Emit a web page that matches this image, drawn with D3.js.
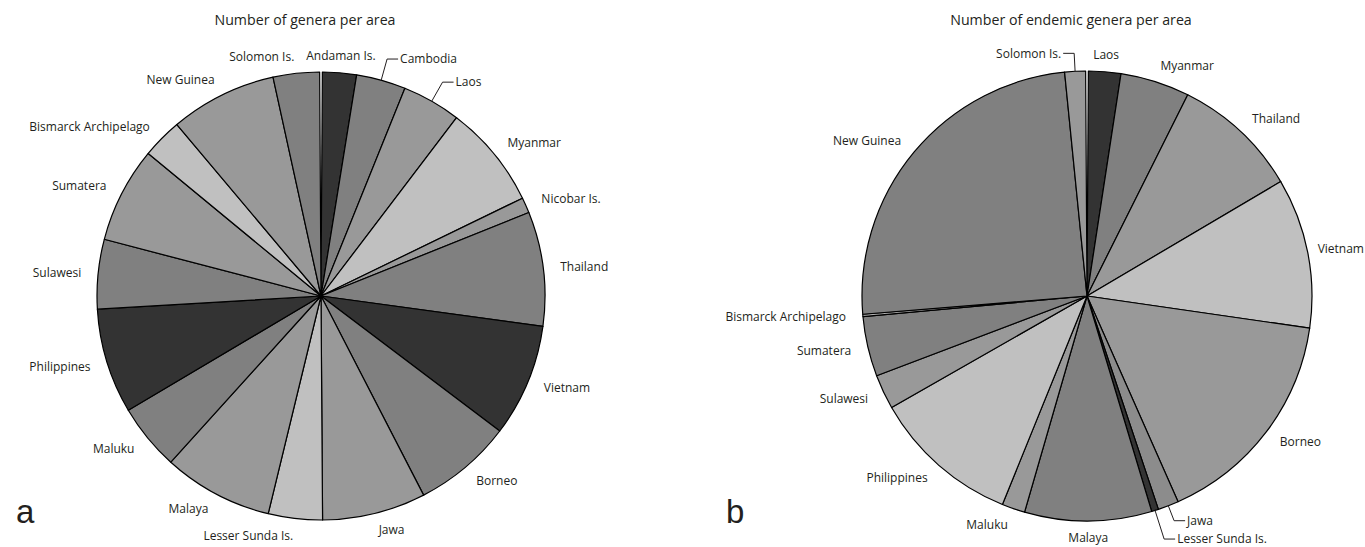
<!doctype html>
<html>
<head>
    <meta charset="UTF-8">
    <title>genera per area</title>
    <script src="https://d3js.org/d3.v7.min.js"></script>
    <style>
        body { margin: 0; background: #fff; }
        text { font-family: "Open Sans", "DejaVu Sans", sans-serif; fill: #231f20; }
    </style>
</head>
<body>
<script>
    // panel a: all genera
    var areasA = ["Andaman Is.", "Cambodia", "Laos", "Myanmar", "Nicobar Is.", "Thailand", "Vietnam",
        "Borneo", "Jawa", "Lesser Sunda Is.", "Malaya", "Maluku", "Philippines", "Sulawesi",
        "Sumatera", "Bismarck Archipelago", "New Guinea", "Solomon Is."];
    var generaA = [22, 32, 38, 67, 10, 74, 73, 64, 67, 35, 71, 43, 68, 45, 62, 26, 69, 30];

    // panel b: endemic genera
    var areasB = ["Laos", "Myanmar", "Thailand", "Vietnam", "Borneo", "Jawa", "Lesser Sunda Is.",
        "Malaya", "Maluku", "Philippines", "Sulawesi", "Sumatera", "Bismarck Archipelago",
        "New Guinea", "Solomon Is."];
    var endemicB = [14, 30, 55, 65, 97, 9, 3, 55, 10, 64, 15, 26, 1, 149, 9];

    var titles = ["Number of genera per area", "Number of endemic genera per area"];
    var panelLetters = ["a", "b"];

    // grey fills
    var fillsA = ["#333333", "#808080", "#999999", "#c0c0c0", "#999999", "#808080", "#333333",
        "#808080", "#999999", "#c0c0c0", "#999999", "#808080", "#333333", "#808080",
        "#999999", "#c0c0c0", "#999999", "#808080"];
    var fillsB = ["#333333", "#808080", "#999999", "#c0c0c0", "#999999", "#8c8c8c", "#333333",
        "#808080", "#999999", "#c0c0c0", "#999999", "#808080", "#b0b0b0",
        "#808080", "#999999"];

    // labels pulled out with a leader line (extra length past the rim)
    var leadersA = {"Cambodia": 22, "Laos": 22};
    var leadersB = {"Solomon Is.": 18, "Jawa": 16, "Lesser Sunda Is.": 30};

    var W = 1365, H = 547;
    var svg = d3.select("body").append("svg")
        .attr("width", W)
        .attr("height", H);

    var gap = 0.006;

    function drawPie(areas, values, fills, leaders, cx, cy, r, title, letter, letterX) {
        var g = svg.append("g").attr("transform", "translate(" + cx + "," + cy + ")");

        var pie = d3.pie().sort(null).value(function(d){ return d.v; })
            .startAngle(gap).endAngle(2 * Math.PI - gap);
        var data = areas.map(function(a, i){ return {name: a, v: values[i], fill: fills[i]}; });
        var arcs = pie(data);
        var arc = d3.arc().innerRadius(0).outerRadius(r);

        g.selectAll("path.slice")
            .data(arcs)
            .enter().append("path")
            .attr("class", "slice")
            .attr("d", arc)
            .attr("fill", function(d){ return d.data.fill; })
            .attr("stroke", "#000")
            .attr("stroke-width", 1.2)
            .attr("stroke-linejoin", "round");

        function pt(a, rad) {
            return [Math.sin(a) * rad, -Math.cos(a) * rad];
        }

        arcs.forEach(function(d){
            var mid = (d.startAngle + d.endAngle) / 2;
            var s = Math.sin(mid);
            var name = d.data.name;
            var t;
            if (leaders[name] !== undefined) {
                var p0 = pt(mid, r);
                var p1 = pt(mid, r + leaders[name]);
                var dir = s >= 0 ? 1 : -1;
                var p2 = [p1[0] + dir * 11, p1[1]];
                g.append("polyline")
                    .attr("points", [p0, p1, p2].map(function(p){ return p.join(","); }).join(" "))
                    .attr("fill", "none")
                    .attr("stroke", "#231f20")
                    .attr("stroke-width", 1);
                t = g.append("text")
                    .attr("x", p2[0] + dir * 2)
                    .attr("y", p2[1])
                    .attr("dy", "0.35em")
                    .attr("text-anchor", dir > 0 ? "start" : "end")
                    .style("font-size", "12px")
                    .text(name);
            } else {
                var p = pt(mid, r + 17);
                var anchor = s > 0.1 ? "start" : (s < -0.1 ? "end" : "middle");
                t = g.append("text")
                    .attr("x", p[0])
                    .attr("y", p[1])
                    .attr("dy", "0.35em")
                    .attr("text-anchor", anchor)
                    .style("font-size", "12px")
                    .text(name);
            }
            // keep labels inside the page
            var b = t.node().getBBox();
            var over = cx + b.x + b.width - (W - 1);
            if (over > 0) t.attr("x", +t.attr("x") - over);
        });

        svg.append("text")
            .attr("x", cx - 16)
            .attr("y", 25)
            .attr("text-anchor", "middle")
            .style("font-size", "14.2px")
            .text(title);

        svg.append("text")
            .attr("x", letterX)
            .attr("y", 523)
            .style("font-family", "'Liberation Sans', Arial, sans-serif")
            .style("font-size", "33px")
            .text(letter);
    }

    drawPie(areasA, generaA, fillsA, leadersA, 321, 296, 224, titles[0], panelLetters[0], 16);
    drawPie(areasB, endemicB, fillsB, leadersB, 1087, 296, 225, titles[1], panelLetters[1], 726);
</script>
</body>
</html>
